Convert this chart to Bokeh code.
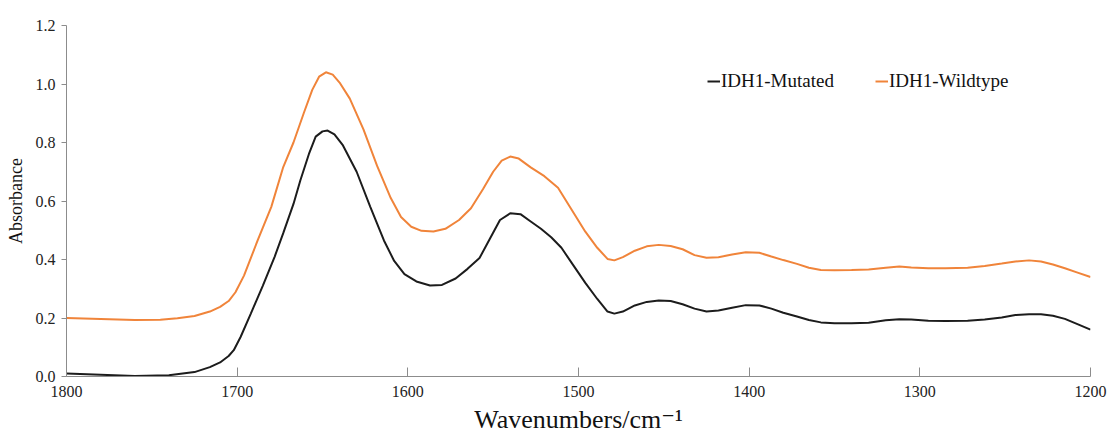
from bokeh.plotting import figure
from bokeh.models import Range1d, FixedTicker, Legend, LegendItem, NumeralTickFormatter
from bokeh.embed import file_html
from bokeh.resources import INLINE

# Wavenumbers (cm^-1)
wn_mut = [1800, 1780, 1760, 1740, 1725, 1716, 1710, 1705, 1702, 1698, 1692, 1685, 1678, 1673, 1667, 1663,
          1658, 1654, 1650, 1647, 1643, 1638, 1630, 1622, 1614, 1608, 1602, 1595, 1587, 1580, 1572, 1565,
          1558, 1552, 1546, 1540, 1534, 1528, 1522, 1516, 1510, 1503, 1496, 1489, 1483, 1479, 1474, 1467,
          1460, 1453, 1446, 1439, 1432, 1425, 1418, 1410, 1402, 1394, 1387, 1380, 1372, 1365, 1358, 1350,
          1340, 1330, 1320, 1312, 1305, 1295, 1285, 1272, 1262, 1252, 1244, 1236, 1229, 1222, 1215, 1208, 1200]
absorb_mut = [0.010, 0.006, 0.002, 0.004, 0.015, 0.032, 0.048, 0.070, 0.090, 0.135, 0.215, 0.310, 0.410, 0.490, 0.590, 0.670,
              0.760, 0.820, 0.838, 0.841, 0.828, 0.790, 0.700, 0.580, 0.465, 0.395, 0.350, 0.325, 0.311, 0.313, 0.335, 0.368,
              0.405, 0.470, 0.535, 0.558, 0.555, 0.530, 0.505, 0.476, 0.440, 0.380, 0.320, 0.265, 0.222, 0.215, 0.222, 0.243,
              0.255, 0.260, 0.258, 0.247, 0.232, 0.222, 0.226, 0.235, 0.244, 0.243, 0.232, 0.218, 0.205, 0.193, 0.185, 0.182,
              0.182, 0.184, 0.192, 0.196, 0.195, 0.191, 0.190, 0.191, 0.195, 0.202, 0.210, 0.213, 0.213, 0.208, 0.197, 0.180, 0.160]

wn_wt = [1800, 1780, 1760, 1745, 1735, 1725, 1716, 1710, 1705, 1701, 1696, 1688, 1680, 1673, 1667, 1661,
         1656, 1652, 1648, 1644, 1640, 1634, 1626, 1618, 1610, 1604, 1598, 1592, 1585, 1578, 1570, 1563,
         1556, 1550, 1545, 1540, 1535, 1528, 1520, 1512, 1504, 1496, 1489, 1483, 1479, 1474, 1467, 1460,
         1453, 1446, 1439, 1432, 1425, 1418, 1410, 1402, 1394, 1387, 1380, 1372, 1365, 1358, 1350, 1340,
         1330, 1320, 1312, 1305, 1295, 1285, 1272, 1262, 1252, 1244, 1236, 1229, 1222, 1215, 1208, 1200]
absorb_wt = [0.200, 0.197, 0.193, 0.194, 0.199, 0.207, 0.222, 0.238, 0.258, 0.288, 0.345, 0.465, 0.580, 0.716, 0.800, 0.900,
             0.980, 1.025, 1.040, 1.032, 1.005, 0.950, 0.845, 0.720, 0.610, 0.545, 0.512, 0.498, 0.496, 0.505, 0.535, 0.575,
             0.640, 0.700, 0.738, 0.752, 0.745, 0.715, 0.685, 0.645, 0.570, 0.495, 0.440, 0.402, 0.397, 0.408, 0.430, 0.445,
             0.450, 0.446, 0.435, 0.415, 0.406, 0.408, 0.417, 0.425, 0.423, 0.410, 0.398, 0.385, 0.372, 0.364, 0.363, 0.364,
             0.366, 0.372, 0.376, 0.373, 0.370, 0.370, 0.372, 0.378, 0.386, 0.393, 0.397, 0.393, 0.383, 0.370, 0.356, 0.340]

series_names = ["IDH1-Mutated", "IDH1-Wildtype"]
x_ticks = [1800, 1700, 1600, 1500, 1400, 1300, 1200]
y_ticks = [0.0, 0.2, 0.4, 0.6, 0.8, 1.0, 1.2]

SERIF = "'Liberation Serif', 'Times New Roman', 'DejaVu Serif', serif"

p = figure(width=1107, height=438, output_backend="svg", toolbar_location=None,
           x_range=Range1d(1800, 1200), y_range=Range1d(0, 1.2),
           min_border_left=66, min_border_right=17, min_border_top=25, min_border_bottom=62)
p.outline_line_color = None
p.xgrid.visible = False
p.ygrid.visible = False

r1 = p.line(wn_mut, absorb_mut, line_color="#1c1c1c", line_width=2)
r2 = p.line(wn_wt, absorb_wt, line_color="#F0843A", line_width=2)

# x axis
xa = p.xaxis[0]
xa.ticker = FixedTicker(ticks=x_ticks)
xa.minor_tick_line_color = None
xa.major_tick_in = 9
xa.major_tick_out = 0
xa.axis_line_color = "#8c8c8c"
xa.major_tick_line_color = "#8c8c8c"
xa.major_label_text_font = SERIF
xa.major_label_text_font_size = "16px"
xa.major_label_text_color = "#222222"
xa.major_label_standoff = 9
xa.axis_label = "Wavenumbers/cm⁻¹"
xa.axis_label_text_font = SERIF
xa.axis_label_text_font_size = "26px"
xa.axis_label_text_font_style = "normal"
xa.axis_label_text_color = "#111111"
xa.axis_label_standoff = 5

# y axis
ya = p.yaxis[0]
ya.ticker = FixedTicker(ticks=y_ticks)
ya.formatter = NumeralTickFormatter(format="0.0")
ya.minor_tick_line_color = None
ya.major_tick_in = 0
ya.major_tick_out = 5
ya.axis_line_color = "#8c8c8c"
ya.major_tick_line_color = "#8c8c8c"
ya.major_label_text_font = SERIF
ya.major_label_text_font_size = "16px"
ya.major_label_text_color = "#222222"
ya.major_label_standoff = 6
ya.axis_label = "Absorbance"
ya.axis_label_text_font = SERIF
ya.axis_label_text_font_size = "18px"
ya.axis_label_text_font_style = "normal"
ya.axis_label_text_color = "#111111"
ya.axis_label_standoff = 7

legend = Legend(items=[LegendItem(label=series_names[0], renderers=[r1]),
                       LegendItem(label=series_names[1], renderers=[r2])],
                orientation="horizontal", location=(641, 284))
legend.border_line_color = None
legend.background_fill_alpha = 0
legend.label_text_font = SERIF
legend.label_text_font_size = "19px"
legend.label_text_color = "#111111"
legend.glyph_width = 13
legend.glyph_height = 20
legend.label_standoff = 1
legend.spacing = 41
legend.padding = 0
legend.margin = 0
p.add_layout(legend, "center")

open("out.html", "w").write(file_html(p, INLINE))
